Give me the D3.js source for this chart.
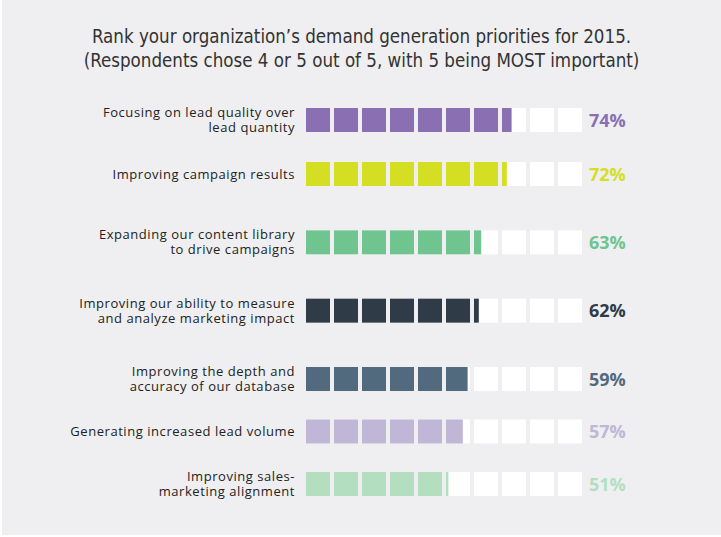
<!DOCTYPE html>
<html>
<head>
<meta charset="utf-8">
<script src="https://cdn.jsdelivr.net/npm/d3@7"></script>
<style>
  body { margin: 0; background: #fff; }
  svg { display: block; }
</style>
</head>
<body>
<svg class="svgPriorities" width="721" height="537"></svg>
<script>
// chart data
var titleLines = [
    "Rank your organization\u2019s demand generation priorities for 2015.",
    "(Respondents chose 4 or 5 out of 5, with 5 being MOST important)"
];
var categories = [
    ["Focusing on lead quality over", "lead quantity"],
    ["Improving campaign results"],
    ["Expanding our content library", "to drive campaigns"],
    ["Improving our ability to measure", "and analyze marketing impact"],
    ["Improving the depth and", "accuracy of our database"],
    ["Generating increased lead volume"],
    ["Improving sales-", "marketing alignment"]
];
var values = [74, 72, 63, 62, 59, 57, 51];
var colors = ["#8a70b3", "#d4df24", "#6fc490", "#2f3b46", "#526a7e", "#c0b6d5", "#b3dfc0"];
var blocks = d3.range(10); // each block = 10%

var svg = d3.select("svg.svgPriorities");
var width = +svg.attr("width");
var height = +svg.attr("height");

svg.append("rect")
    .attr("x", 2).attr("y", 0)
    .attr("width", width - 2).attr("height", height - 2)
    .attr("fill", "#efeff1");

// title
svg.append("g")
    .selectAll("text")
    .data(titleLines)
    .enter().append("text")
    .attr("x", width / 2 + 1)
    .attr("y", function(d, i) { return 43 + i * 24; })
    .attr("text-anchor", "middle")
    .attr("font-family", "'Liberation Sans Narrow', 'DejaVu Sans Condensed', sans-serif")
    .attr("font-size", 18.6)
    .attr("fill", "#333")
    .text(function(d) { return d; });

// bar scale: 0..100% over ten blocks
var blockStep = 28, blockW = 24, blockH = 24;
var x = d3.scaleLinear().domain([0, 100]).range([306, 306 + blockStep * 10]);

// rows are not evenly spaced in the original (two-line labels get more room)
var y = d3.scaleLinear().domain([0, 1, 4, 6]).range([120, 174, 379, 484]);

var rows = svg.append("g").attr("class", "rows")
    .selectAll("g")
    .data(values)
    .enter().append("g")
    .attr("class", "row")
    .attr("transform", function(d, i) { return "translate(0," + y(i) + ")"; });

// labels
rows.append("text")
    .attr("class", "label")
    .attr("text-anchor", "end")
    .attr("font-family", "'Open Sans', sans-serif")
    .attr("font-size", 13)
    .attr("letter-spacing", 0.55)
    .attr("fill", "#222")
    .each(function(d, i) {
        var lines = categories[i];
        var t = d3.select(this);
        lines.forEach(function(line, j) {
            t.append("tspan")
                .attr("x", 295)
                .attr("y", (j - (lines.length - 1) / 2) * 15 + 4.5)
                .text(line);
        });
    });

// empty blocks
rows.selectAll("rect.bg")
    .data(blocks)
    .enter().append("rect")
    .attr("class", "bg")
    .attr("x", function(b) { return x(b * 10); })
    .attr("y", -blockH / 2)
    .attr("width", blockW)
    .attr("height", blockH)
    .attr("fill", "#fff");

// filled part of every block
rows.each(function(v, i) {
    d3.select(this).selectAll("rect.fill")
        .data(blocks.filter(function(b) { return b * 10 < v; }))
        .enter().append("rect")
        .attr("class", "fill")
        .attr("x", function(b) { return x(b * 10); })
        .attr("y", -blockH / 2)
        .attr("width", function(b) { return blockW * Math.min(1, (v - b * 10) / 10); })
        .attr("height", blockH)
        .attr("fill", colors[i]);
});

// percent labels
rows.append("text")
    .attr("class", "pct")
    .attr("x", x(100) - blockStep + blockW + 7)
    .attr("y", 6.5)
    .attr("font-family", "'Open Sans', sans-serif")
    .attr("font-weight", "bold")
    .attr("font-size", 18)
    .attr("fill", function(d, i) { return colors[i]; })
    .text(function(d) { return d + "%"; });
</script>
</body>
</html>
